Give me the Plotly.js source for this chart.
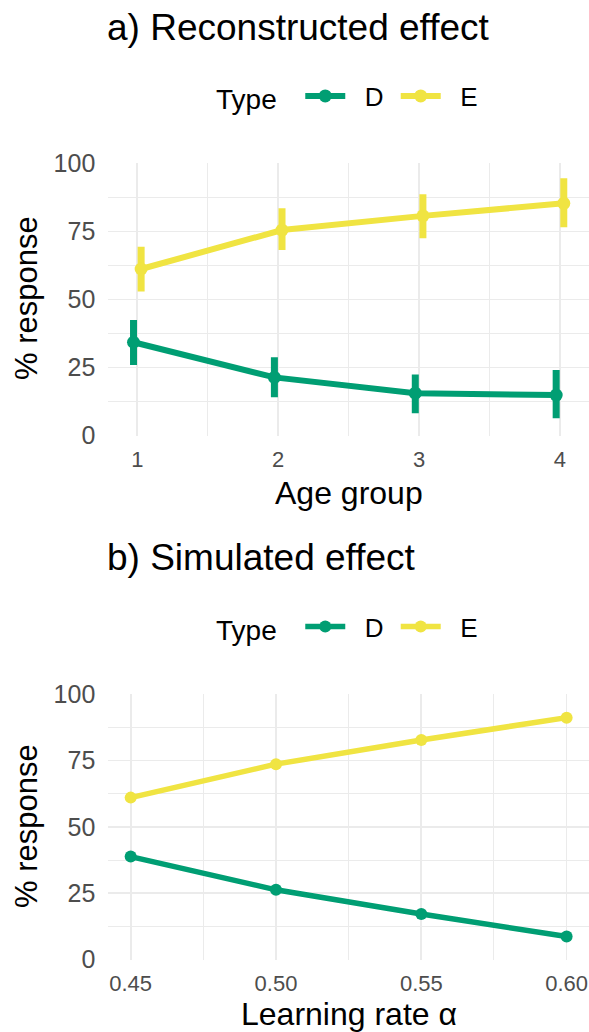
<!DOCTYPE html>
<html>
<head>
<meta charset="utf-8">
<script src="https://cdn.plot.ly/plotly-3.0.1.min.js"></script>
<style>html,body{margin:0;padding:0;background:#fff;}#chart{width:589px;height:1032px;}</style>
</head>
<body>
<div id="chart"></div>
<script>
// ---- data ----
const ageGroups = [1, 2, 3, 4];
const ageTickLabels = ["1", "2", "3", "4"];
const reconD = [34.3, 21.4, 15.6, 14.9];
const reconDUpper = [42.5, 28.8, 22.5, 24.1];
const reconDLower = [26.0, 14.1, 8.2, 6.4];
const reconE = [61.2, 75.5, 80.7, 85.3];
const reconEUpper = [69.4, 83.5, 88.6, 94.5];
const reconELower = [52.9, 68.2, 72.5, 76.5];

const learningRates = [0.45, 0.50, 0.55, 0.60];
const rateTickLabels = ["0.45", "0.50", "0.55", "0.60"];
const simD = [38.8, 26.3, 17.2, 8.7];
const simE = [61.0, 73.6, 82.7, 91.1];

const yTicks = [0, 25, 50, 75, 100];
const yTickLabels = ["0", "25", "50", "75", "100"];
const seriesNames = ["D", "E"];
const legendTitle = "Type";

// ---- style ----
const GREEN = "#009E73", YELLOW = "#F0E442";
const FONT = "Liberation Sans, Arial, sans-serif";
const GRID = "#EBEBEB";
const W = 589, H = 1032;
const dodge = 0.027;
const NB = "\u00A0";

const px2y = p => 1 - p / H;
const px2x = p => p / W;

function up(m, u) { return u.map((v, i) => +(v - m[i]).toFixed(3)); }
function dn(m, l) { return l.map((v, i) => +(m[i] - v).toFixed(3)); }
const legName = n => NB + NB + n + NB;

const traces = [
  {
    x: ageGroups.map(a => a - dodge), y: reconD, name: legName(seriesNames[0]), type: "scatter", mode: "lines+markers",
    line: {color: GREEN, width: 6}, marker: {color: GREEN, size: 13},
    error_y: {type: "data", symmetric: false, array: up(reconD, reconDUpper), arrayminus: dn(reconD, reconDLower), color: GREEN, thickness: 7, width: 0},
    xaxis: "x", yaxis: "y", legend: "legend"
  },
  {
    x: ageGroups.map(a => a + dodge), y: reconE, name: legName(seriesNames[1]), type: "scatter", mode: "lines+markers",
    line: {color: YELLOW, width: 6}, marker: {color: YELLOW, size: 13},
    error_y: {type: "data", symmetric: false, array: up(reconE, reconEUpper), arrayminus: dn(reconE, reconELower), color: YELLOW, thickness: 7, width: 0},
    xaxis: "x", yaxis: "y", legend: "legend"
  },
  {
    x: learningRates, y: simD, name: legName(seriesNames[0]), type: "scatter", mode: "lines+markers",
    line: {color: GREEN, width: 5.5}, marker: {color: GREEN, size: 12},
    xaxis: "x2", yaxis: "y2", legend: "legend2"
  },
  {
    x: learningRates, y: simE, name: legName(seriesNames[1]), type: "scatter", mode: "lines+markers",
    line: {color: YELLOW, width: 5.5}, marker: {color: YELLOW, size: 12},
    xaxis: "x2", yaxis: "y2", legend: "legend2"
  }
];

const yAxisBase = {
  range: [0, 100], tickvals: yTicks, ticktext: yTickLabels,
  showgrid: true, gridcolor: GRID, gridwidth: 1.7, zeroline: false, showline: false,
  ticks: "", ticklabelstandoff: 12,
  tickfont: {family: FONT, size: 25, color: "#4D4D4D"},
  minor: {tickvals: [12.5, 37.5, 62.5, 87.5], showgrid: true, gridcolor: GRID, gridwidth: 1}
};
const xDomain = [px2x(108.3), 1];

const legendBase = {
  orientation: "h", xanchor: "left", yanchor: "middle",
  font: {family: FONT, size: 26, color: "#000"},
  title: {text: legendTitle + NB + NB, side: "left", font: {family: FONT, size: 28, color: "#000"}},
  itemwidth: 40, bgcolor: "rgba(0,0,0,0)", borderwidth: 0, tracegroupgap: 0, traceorder: "normal"
};

const layout = {
  width: W, height: H, autosize: false,
  margin: {l: 0, r: 0, t: 0, b: 0, pad: 0},
  paper_bgcolor: "#fff", plot_bgcolor: "#fff",
  showlegend: true,
  font: {family: FONT},
  xaxis: {
    domain: xDomain, anchor: "y", range: [0.794, 4.206],
    tickvals: ageGroups, ticktext: ageTickLabels,
    showgrid: true, gridcolor: GRID, gridwidth: 1.7, zeroline: false, showline: false,
    ticks: "", ticklabelstandoff: 8,
    tickfont: {family: FONT, size: 22, color: "#4D4D4D"},
    minor: {tickvals: [1.5, 2.5, 3.5], showgrid: true, gridcolor: GRID, gridwidth: 1}
  },
  yaxis: Object.assign({}, yAxisBase, {domain: [px2y(435.7), px2y(163.3)], anchor: "x"}),
  xaxis2: {
    domain: xDomain, anchor: "y2", range: [0.4423, 0.6077],
    tickvals: learningRates, ticktext: rateTickLabels,
    showgrid: true, gridcolor: GRID, gridwidth: 1.7, zeroline: false, showline: false,
    ticks: "", ticklabelstandoff: 8,
    tickfont: {family: FONT, size: 22, color: "#4D4D4D"},
    minor: {tickvals: [0.475, 0.525, 0.575], showgrid: true, gridcolor: GRID, gridwidth: 1}
  },
  yaxis2: Object.assign({}, yAxisBase, {domain: [px2y(959.7), px2y(694)], anchor: "x2"}),
  legend: Object.assign({}, legendBase, {x: px2x(214), y: px2y(96)}),
  legend2: Object.assign({}, legendBase, {x: px2x(214), y: px2y(626.7)}),
  annotations: [
    {text: "a) Reconstructed effect", xref: "paper", yref: "paper", x: px2x(105), y: px2y(27), xanchor: "left", yanchor: "middle", showarrow: false, font: {family: FONT, size: 37, color: "#000"}},
    {text: "b) Simulated effect", xref: "paper", yref: "paper", x: px2x(105), y: px2y(557.7), xanchor: "left", yanchor: "middle", showarrow: false, font: {family: FONT, size: 37, color: "#000"}},
    {text: "Age group", xref: "paper", yref: "paper", x: px2x(348.6), y: px2y(493), xanchor: "center", yanchor: "middle", showarrow: false, font: {family: FONT, size: 32, color: "#000"}},
    {text: "Learning rate α", xref: "paper", yref: "paper", x: px2x(348.6), y: px2y(1014), xanchor: "center", yanchor: "middle", showarrow: false, font: {family: FONT, size: 32, color: "#000"}},
    {text: "% response", xref: "paper", yref: "paper", x: px2x(26), y: px2y(298), xanchor: "center", yanchor: "middle", textangle: -90, showarrow: false, font: {family: FONT, size: 31, color: "#000"}},
    {text: "% response", xref: "paper", yref: "paper", x: px2x(26), y: px2y(826), xanchor: "center", yanchor: "middle", textangle: -90, showarrow: false, font: {family: FONT, size: 31, color: "#000"}}
  ]
};

Plotly.newPlot("chart", traces, layout, {staticPlot: true, displayModeBar: false});
</script>
</body>
</html>
